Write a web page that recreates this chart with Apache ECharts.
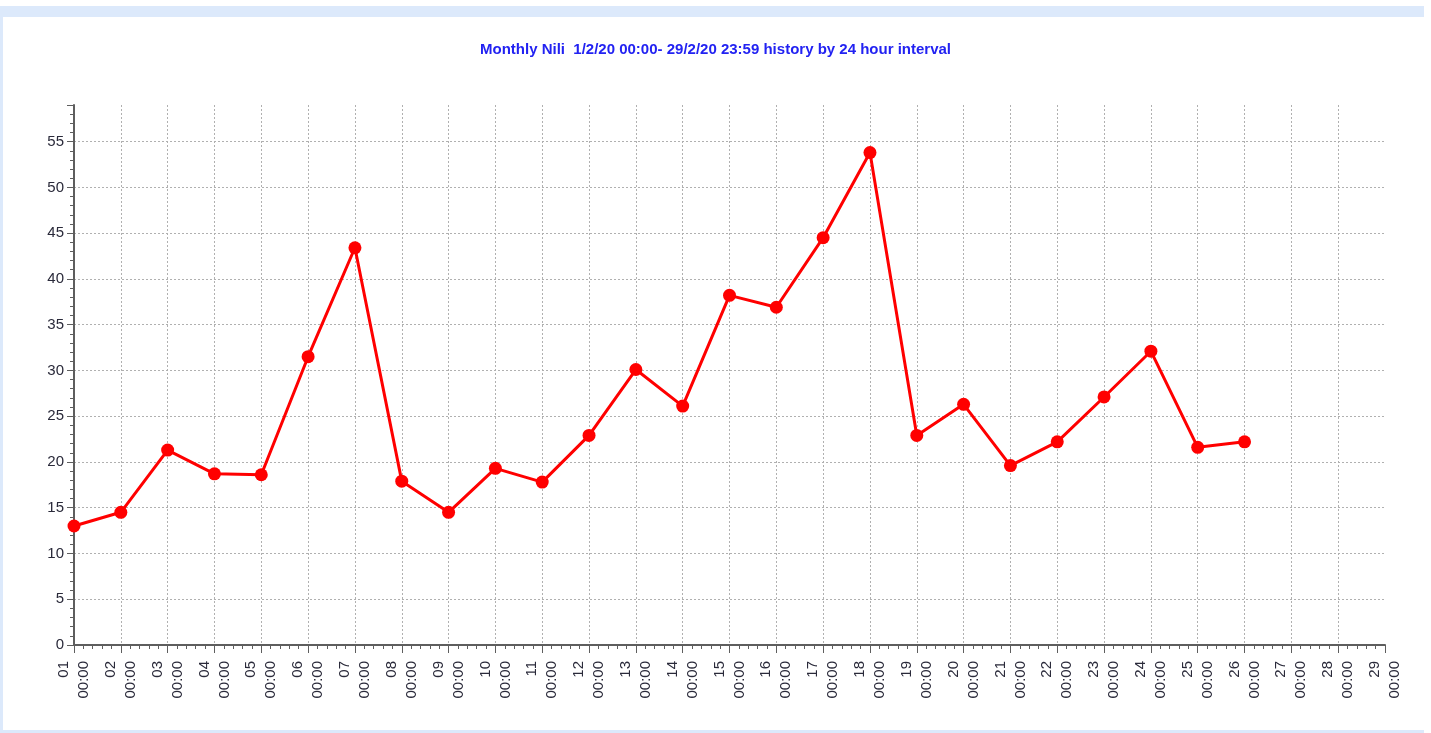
<!DOCTYPE html>
<html>
<head>
<meta charset="utf-8">
<script src="https://cdn.jsdelivr.net/npm/echarts@6/dist/echarts.min.js"></script>
<style>
  html, body { margin: 0; padding: 0; background: #ffffff; }
  #frame { position: absolute; left: 0; top: 6px; width: 1421px; height: 713px;
           border-top: 11px solid #dce9fb; border-left: 3px solid #dce9fb; border-bottom: 3px solid #dce9fb; }
  #chart { position: absolute; left: 0; top: 0; width: 1431px; height: 733px; }
</style>
</head>
<body>
<div id="frame"></div>
<div id="chart"></div>
<script>
const titleText = 'Monthly Nili  1/2/20 00:00- 29/2/20 23:59 history by 24 hour interval';
const days = ['01','02','03','04','05','06','07','08','09','10','11','12','13','14','15',
              '16','17','18','19','20','21','22','23','24','25','26','27','28','29'];
const timeLabel = '00:00';
const values = [13.0, 14.5, 21.3, 18.7, 18.6, 31.5, 43.4, 17.9, 14.5, 19.3, 17.8, 22.9, 30.1,
                26.1, 38.2, 36.9, 44.5, 53.8, 22.9, 26.3, 19.6, 22.2, 27.1, 32.1, 21.6, 22.2];
const yMax = 59;

const chart = echarts.init(document.getElementById('chart'));
const axisColor = '#5e5e5e';
const gridLine = { show: true, lineStyle: { color: '#b0b0b0', type: [2, 2], width: 1 } };

chart.setOption({
  animation: false,
  title: {
    text: titleText, left: 'center', top: 37,
    textStyle: { color: '#2222f2', fontFamily: 'Liberation Sans Narrow, Liberation Sans', fontWeight: 'bold', fontSize: 15 }
  },
  grid: { left: 74, right: 46, top: 105, bottom: 88, containLabel: false },
  xAxis: {
    type: 'value', min: 0, max: days.length - 1, interval: 1,
    axisLine: { show: true, lineStyle: { color: axisColor, width: 2 } },
    axisTick: { show: true, length: 8, lineStyle: { color: axisColor } },
    minorTick: { show: true, splitNumber: 5, length: 4, lineStyle: { color: axisColor } },
    splitLine: Object.assign({ showMaxLine: false, showMinLine: false }, gridLine),
    axisLabel: {
      rotate: 90, margin: 16, align: 'right', color: '#2a2a3a', fontFamily: 'Liberation Sans', fontSize: 15,
      formatter: v => (days[v] !== undefined ? days[v] + '\n' + timeLabel : ''), lineHeight: 20
    }
  },
  yAxis: {
    type: 'value', min: 0, max: yMax, interval: 5,
    axisLine: { show: true, lineStyle: { color: axisColor, width: 2 } },
    axisTick: { show: true, length: 7, lineStyle: { color: axisColor } },
    minorTick: { show: true, splitNumber: 5, length: 4, lineStyle: { color: axisColor } },
    splitLine: Object.assign({ showMaxLine: false, showMinLine: false }, gridLine),
    axisLabel: {
      margin: 10, color: '#2a2a3a', fontFamily: 'Liberation Sans', fontSize: 15,
      formatter: v => (v % 5 === 0 ? String(v) : '')
    }
  },
  series: [{
    type: 'line',
    data: values.map((v, i) => [i, v]),
    symbol: 'circle', symbolSize: 13,
    lineStyle: { color: '#ff0000', width: 3 },
    itemStyle: { color: '#ff0000' }
  }]
});
</script>
</body>
</html>
